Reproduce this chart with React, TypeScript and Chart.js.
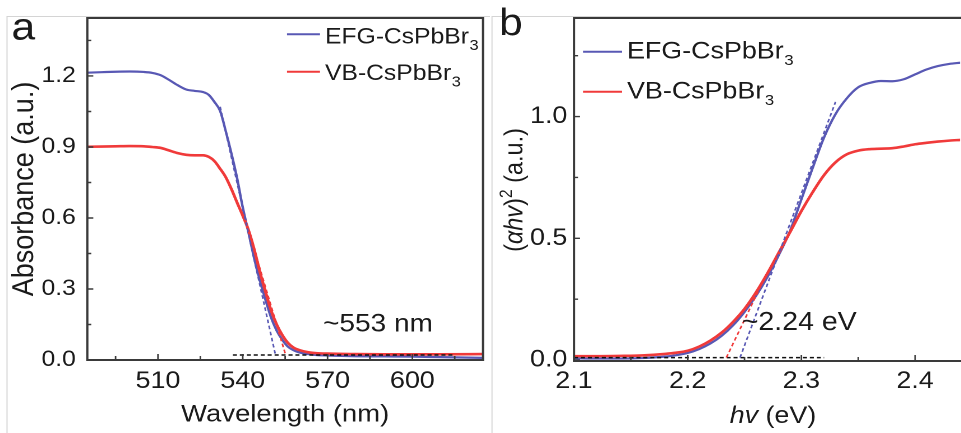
import React, { useEffect, useRef } from "react";
import { Chart, registerables } from "chart.js";

Chart.register(...registerables);

// ---------------- Panel a : absorbance spectra ----------------
const wavelengthNm = [485, 490, 495, 500, 505, 508, 511, 514, 517, 520, 523, 526, 528, 530, 532, 534, 536, 538, 540, 542, 544, 546, 548, 550, 552, 554, 556, 558, 560, 563, 566, 570, 580, 590, 600, 610, 625];
const absorbanceEFG = [1.214, 1.216, 1.218, 1.219, 1.217, 1.213, 1.203, 1.183, 1.161, 1.143, 1.137, 1.132, 1.12, 1.09, 1.052, 0.966, 0.872, 0.768, 0.645, 0.54, 0.432, 0.338, 0.256, 0.18, 0.124, 0.085, 0.056, 0.041, 0.032, 0.025, 0.021, 0.019, 0.016, 0.015, 0.014, 0.012, 0.009];
const absorbanceVB = [0.901, 0.902, 0.903, 0.904, 0.903, 0.9, 0.896, 0.885, 0.874, 0.867, 0.865, 0.865, 0.858, 0.84, 0.808, 0.772, 0.722, 0.665, 0.61, 0.55, 0.47, 0.375, 0.29, 0.21, 0.15, 0.105, 0.072, 0.052, 0.042, 0.033, 0.029, 0.027, 0.025, 0.024, 0.024, 0.024, 0.025];
const fitEFGa_x = [532, 551.6];
const fitEFGa_y = [1.07, 0.02];
const fitVBa_x = [542, 555.2];
const fitVBa_y = [0.55, 0.02];
const baseA_x = [536.5, 615];
const baseA_y = [0.021, 0.021];
const xTicksA = [510, 540, 570, 600];
const xMinorA = [495, 525, 555, 585, 615];
const yTicksA = [0, 0.3, 0.6, 0.9, 1.2];
const yMinorA = [0.15, 0.45, 0.75, 1.05, 1.35];

// ---------------- Panel b : Tauc plot ----------------
const photonEnergyEv = [2.1, 2.12, 2.14, 2.16, 2.18, 2.19, 2.2, 2.21, 2.22, 2.23, 2.24, 2.25, 2.26, 2.27, 2.28, 2.29, 2.3, 2.31, 2.32, 2.33, 2.34, 2.35, 2.36, 2.37, 2.38, 2.39, 2.4, 2.41, 2.42, 2.43, 2.44];
const taucEFG = [0.007, 0.006, 0.006, 0.008, 0.014, 0.02, 0.029, 0.045, 0.068, 0.1, 0.143, 0.198, 0.263, 0.34, 0.43, 0.53, 0.66, 0.79, 0.915, 1.01, 1.075, 1.12, 1.138, 1.146, 1.145, 1.153, 1.173, 1.193, 1.207, 1.216, 1.221];
const taucVB = [0.016, 0.016, 0.017, 0.019, 0.025, 0.03, 0.038, 0.055, 0.08, 0.113, 0.157, 0.21, 0.277, 0.355, 0.44, 0.525, 0.612, 0.69, 0.76, 0.812, 0.845, 0.86, 0.866, 0.868, 0.87, 0.877, 0.886, 0.892, 0.897, 0.901, 0.904];
const fitEFGb_x = [2.246, 2.33];
const fitEFGb_y = [0.01, 1.06];
const fitVBb_x = [2.234, 2.27];
const fitVBb_y = [0.01, 0.36];
const baseB_x = [2.1, 2.32];
const baseB_y = [0.01, 0.01];
const xTicksB = [2.1, 2.2, 2.3, 2.4];
const xMinorB = [2.15, 2.25, 2.35];
const yTicksB = [0, 0.5, 1.0];
const yMinorB = [0.25, 0.75, 1.25];

const legendMain = ["EFG-CsPbBr", "VB-CsPbBr"];
const legendSub = ["3", "3"];
const gapLabelA = "~553 nm";
const gapLabelB = "~2.24 eV";

// ---------------- styling ----------------
const FONT = '"Liberation Sans", Arial, Helvetica, sans-serif';
const BLUE = "#5858b4";
const RED = "#f03a3a";
const INK = "#1a1a1a";
const FRAME = "#3a3a3a";
const H = 433;
const W_A = 490;
const W_B = 471;
const SX = 1.12;
const IA = Math.round(W_A / SX);
const IB = Math.round(W_B / SX);
const sA = W_A / IA;
const sB = W_B / IB;

function pts(xs: number[], ys: number[]) {
  return xs.map((x, i) => ({ x, y: ys[i] }));
}

function curve(label: string, data: any[], color: string, width: number, order: number) {
  return {
    label,
    data,
    borderColor: color,
    borderWidth: width,
    pointRadius: 0,
    fill: false,
    cubicInterpolationMode: "monotone",
    order,
  };
}

function dashed(label: string, data: any[], color: string, order: number) {
  return {
    label,
    data,
    borderColor: color,
    borderWidth: 1.5,
    borderDash: [3.6, 2.6],
    pointRadius: 0,
    fill: false,
    tension: 0,
    order,
  };
}

function drawTicks(ctx: any, chart: any, xMaj: number[], xMin: number[], yMaj: number[], yMin: number[], s: number) {
  const ca = chart.chartArea;
  const xs = chart.scales.x;
  const ys = chart.scales.y;
  ctx.strokeStyle = FRAME;
  ctx.lineWidth = 1.4;
  ctx.beginPath();
  const xt = (vals: number[], len: number) => {
    for (const v of vals) {
      const p = xs.getPixelForValue(v);
      ctx.moveTo(p, ca.bottom);
      ctx.lineTo(p, ca.bottom - len);
    }
  };
  const yt = (vals: number[], len: number) => {
    for (const v of vals) {
      const p = ys.getPixelForValue(v);
      ctx.moveTo(ca.left, p);
      ctx.lineTo(ca.left + len / s, p);
    }
  };
  xt(xMaj, 6);
  xt(xMin, 4);
  yt(yMaj, 6);
  yt(yMin, 4);
  ctx.stroke();
}

function subLabel(ctx: any, x: number, y: number, main: string, sub: string, size: number, subSize: number, dy: number) {
  ctx.font = `${size}px ${FONT}`;
  ctx.textAlign = "left";
  ctx.textBaseline = "alphabetic";
  ctx.fillText(main, x, y);
  const w = ctx.measureText(main).width;
  ctx.font = `${subSize}px ${FONT}`;
  ctx.fillText(sub, x + w + 0.5, y + dy);
}

function legend(ctx: any, s: number, x0: number, x1: number, tx: number, ys: number[], bs: number[], size: number, subSize: number) {
  const colors = [BLUE, RED];
  for (let i = 0; i < 2; i++) {
    ctx.strokeStyle = colors[i];
    ctx.lineWidth = 2;
    ctx.beginPath();
    ctx.moveTo(x0 / s, ys[i]);
    ctx.lineTo(x1 / s, ys[i]);
    ctx.stroke();
    ctx.fillStyle = INK;
    subLabel(ctx, tx / s, bs[i], legendMain[i], legendSub[i], size, subSize, 6.6);
  }
}

const decorA = {
  id: "decorA",
  afterDraw(chart: any) {
    const { ctx, chartArea: ca } = chart;
    ctx.save();
    ctx.strokeStyle = "#d4d4d4";
    ctx.lineWidth = 1;
    ctx.beginPath();
    ctx.moveTo(7 / sA, 433);
    ctx.lineTo(7 / sA, 16.5);
    ctx.lineTo(IA, 16.5);
    ctx.stroke();
    ctx.strokeStyle = FRAME;
    ctx.lineWidth = 2;
    ctx.strokeRect(ca.left, ca.top, ca.right - ca.left, ca.bottom - ca.top);
    drawTicks(ctx, chart, xTicksA, xMinorA, yTicksA, yMinorA, sA);
    legend(ctx, sA, 287, 320, 325, [34.3, 71.7], [43.3, 80], 22, 14.5);
    ctx.fillStyle = INK;
    ctx.font = `25px ${FONT}`;
    ctx.textAlign = "left";
    ctx.textBaseline = "alphabetic";
    ctx.fillText(gapLabelA, 323 / sA, 331.7);
    ctx.font = `38px ${FONT}`;
    ctx.fillText("a", 13 / sA - 1.4, 39.5);
    ctx.restore();
  },
};

const decorB = {
  id: "decorB",
  afterDraw(chart: any) {
    const { ctx, chartArea: ca } = chart;
    ctx.save();
    ctx.strokeStyle = "#d4d4d4";
    ctx.lineWidth = 1;
    ctx.beginPath();
    ctx.moveTo(2 / sB, 433);
    ctx.lineTo(2 / sB, 16.5);
    ctx.lineTo(IB, 16.5);
    ctx.stroke();
    ctx.strokeStyle = FRAME;
    ctx.lineWidth = 2;
    ctx.beginPath();
    ctx.moveTo(IB, ca.top);
    ctx.lineTo(ca.left, ca.top);
    ctx.lineTo(ca.left, ca.bottom);
    ctx.lineTo(IB, ca.bottom);
    ctx.stroke();
    drawTicks(ctx, chart, xTicksB, xMinorB, yTicksB, yMinorB, sB);
    legend(ctx, sB, 583 - 490, 622 - 490, 627 - 490, [51.7, 91.7], [58.3, 98.3], 24, 15);
    ctx.fillStyle = INK;
    ctx.textAlign = "left";
    ctx.textBaseline = "alphabetic";
    ctx.font = `25.5px ${FONT}`;
    ctx.fillText(gapLabelB, (741.7 - 490) / sB, 330);
    ctx.font = `38px ${FONT}`;
    ctx.fillText("b", (501.7 - 490) / sB - 2.5, 35);

    // x title: hv (eV)
    const fs = 24;
    const normal = `${fs}px ${FONT}`;
    const italic = `italic ${fs}px ${FONT}`;
    const xParts = [
      { t: "hv", f: italic },
      { t: " (eV)", f: normal },
    ];
    let tot = 0;
    for (const p of xParts) {
      ctx.font = p.f;
      tot += ctx.measureText(p.t).width;
    }
    let cx = (773 - 490) / sB - tot / 2;
    for (const p of xParts) {
      ctx.font = p.f;
      ctx.fillText(p.t, cx, 423);
      cx += ctx.measureText(p.t).width;
    }

    // y title: (αhv)² (a.u.)
    const ys = 23.5;
    const yParts = [
      { t: "(", f: `${ys}px ${FONT}`, dy: 0 },
      { t: "α", f: `italic ${ys}px ${FONT}`, dy: 0 },
      { t: "hv", f: `italic ${ys}px ${FONT}`, dy: 0 },
      { t: ")", f: `${ys}px ${FONT}`, dy: 0 },
      { t: "2", f: `15.5px ${FONT}`, dy: -9.5 },
      { t: " (a.u.)", f: `${ys}px ${FONT}`, dy: 0 },
    ];
    let ty = 0;
    for (const p of yParts) {
      ctx.font = p.f;
      ty += ctx.measureText(p.t).width;
    }
    ctx.translate((522.5 - 490) / sB, 190);
    ctx.rotate(-Math.PI / 2);
    let px = -ty / 2;
    for (const p of yParts) {
      ctx.font = p.f;
      ctx.fillText(p.t, px, p.dy);
      px += ctx.measureText(p.t).width;
    }
    ctx.restore();
  },
};

function baseScales(opts: any) {
  return {
    x: {
      type: "linear",
      min: opts.xmin,
      max: opts.xmax,
      grid: { display: false, drawTicks: false },
      border: { display: false },
      afterBuildTicks: (sc: any) => {
        sc.ticks = opts.xticks.map((v: number) => ({ value: v }));
      },
      afterFit: (sc: any) => {
        sc.height = opts.xh;
        sc.paddingLeft = 0;
        sc.paddingRight = 0;
      },
      ticks: {
        font: { family: FONT, size: 24 },
        color: INK,
        padding: opts.xpad,
        maxRotation: 0,
        minRotation: 0,
        autoSkip: false,
        callback: opts.xfmt,
      },
      title: opts.xtitle,
    },
    y: {
      type: "linear",
      min: opts.ymin,
      max: opts.ymax,
      grid: { display: false, drawTicks: false },
      border: { display: false },
      afterBuildTicks: (sc: any) => {
        sc.ticks = opts.yticks.map((v: number) => ({ value: v }));
      },
      afterFit: (sc: any) => {
        sc.width = opts.yw;
        sc.paddingTop = 0;
        sc.paddingBottom = 0;
      },
      ticks: {
        font: { family: FONT, size: opts.yfs },
        color: INK,
        padding: opts.ypad,
        autoSkip: false,
        callback: (v: any) => Number(v).toFixed(1),
      },
      title: opts.ytitle,
    },
  };
}

function configA(): any {
  return {
    type: "line",
    data: {
      datasets: [
        dashed("EFG fit", pts(fitEFGa_x, fitEFGa_y), BLUE, 0),
        dashed("VB fit", pts(fitVBa_x, fitVBa_y), RED, 0),
        dashed("baseline", pts(baseA_x, baseA_y), "#111111", 0),
        curve("VB-CsPbBr3", pts(wavelengthNm, absorbanceVB), RED, 2.6, 1),
        curve("EFG-CsPbBr3", pts(wavelengthNm, absorbanceEFG), BLUE, 2.2, 2),
      ],
    },
    options: {
      responsive: false,
      animation: false,
      devicePixelRatio: 2,
      events: [],
      layout: { padding: { left: 0, right: (W_A - 483) / sA, top: 18, bottom: 0 } },
      plugins: { legend: { display: false }, tooltip: { enabled: false } },
      scales: baseScales({
        xmin: 485,
        xmax: 625,
        xticks: xTicksA,
        xh: H - 360,
        xpad: 7,
        xfmt: (v: any) => String(v),
        xtitle: {
          display: true,
          text: "Wavelength (nm)",
          font: { family: FONT, size: 24.5 },
          color: INK,
          padding: { top: 0, bottom: 3.5 },
        },
        ymin: 0,
        ymax: 1.445,
        yticks: yTicksA,
        yw: 87.3 / sA,
        yfs: 22,
        ypad: 10.3,
        ytitle: {
          display: true,
          text: "Absorbance (a.u.)",
          font: { family: FONT, size: 27 },
          color: INK,
          padding: { top: 5.7, bottom: 0 },
        },
      }),
    },
    plugins: [decorA],
  };
}

function configB(): any {
  return {
    type: "line",
    data: {
      datasets: [
        dashed("EFG fit", pts(fitEFGb_x, fitEFGb_y), BLUE, 0),
        dashed("VB fit", pts(fitVBb_x, fitVBb_y), RED, 0),
        dashed("baseline", pts(baseB_x, baseB_y), "#111111", 0),
        curve("VB-CsPbBr3", pts(photonEnergyEv, taucVB), RED, 2.6, 1),
        curve("EFG-CsPbBr3", pts(photonEnergyEv, taucEFG), BLUE, 2.2, 2),
      ],
    },
    options: {
      responsive: false,
      animation: false,
      devicePixelRatio: 2,
      events: [],
      layout: { padding: { left: 0, right: 1 / sB, top: 18, bottom: 0 } },
      plugins: { legend: { display: false }, tooltip: { enabled: false } },
      scales: baseScales({
        xmin: 2.1,
        xmax: 2.4395,
        xticks: xTicksB,
        xh: H - 361,
        xpad: 6,
        xfmt: (v: any) => Number(v).toFixed(1),
        xtitle: { display: false },
        ymin: -0.004,
        ymax: 1.4046,
        yticks: yTicksB,
        yw: 84 / sB,
        yfs: 24,
        ypad: 6,
        ytitle: { display: false },
      }),
    },
    plugins: [decorB],
  };
}

export default function App() {
  const refA = useRef<HTMLCanvasElement>(null);
  const refB = useRef<HTMLCanvasElement>(null);
  useEffect(() => {
    const a = new Chart(refA.current as HTMLCanvasElement, configA());
    const b = new Chart(refB.current as HTMLCanvasElement, configB());
    return () => {
      a.destroy();
      b.destroy();
    };
  }, []);
  return (
    <div style={{ position: "absolute", left: 0, top: 0, width: 961, height: H, background: "#ffffff", overflow: "hidden" }}>
      <canvas ref={refA} width={IA} height={H} style={{ position: "absolute", left: 0, top: 0, width: W_A, height: H }} />
      <canvas ref={refB} width={IB} height={H} style={{ position: "absolute", left: W_A, top: 0, width: W_B, height: H }} />
    </div>
  );
}
